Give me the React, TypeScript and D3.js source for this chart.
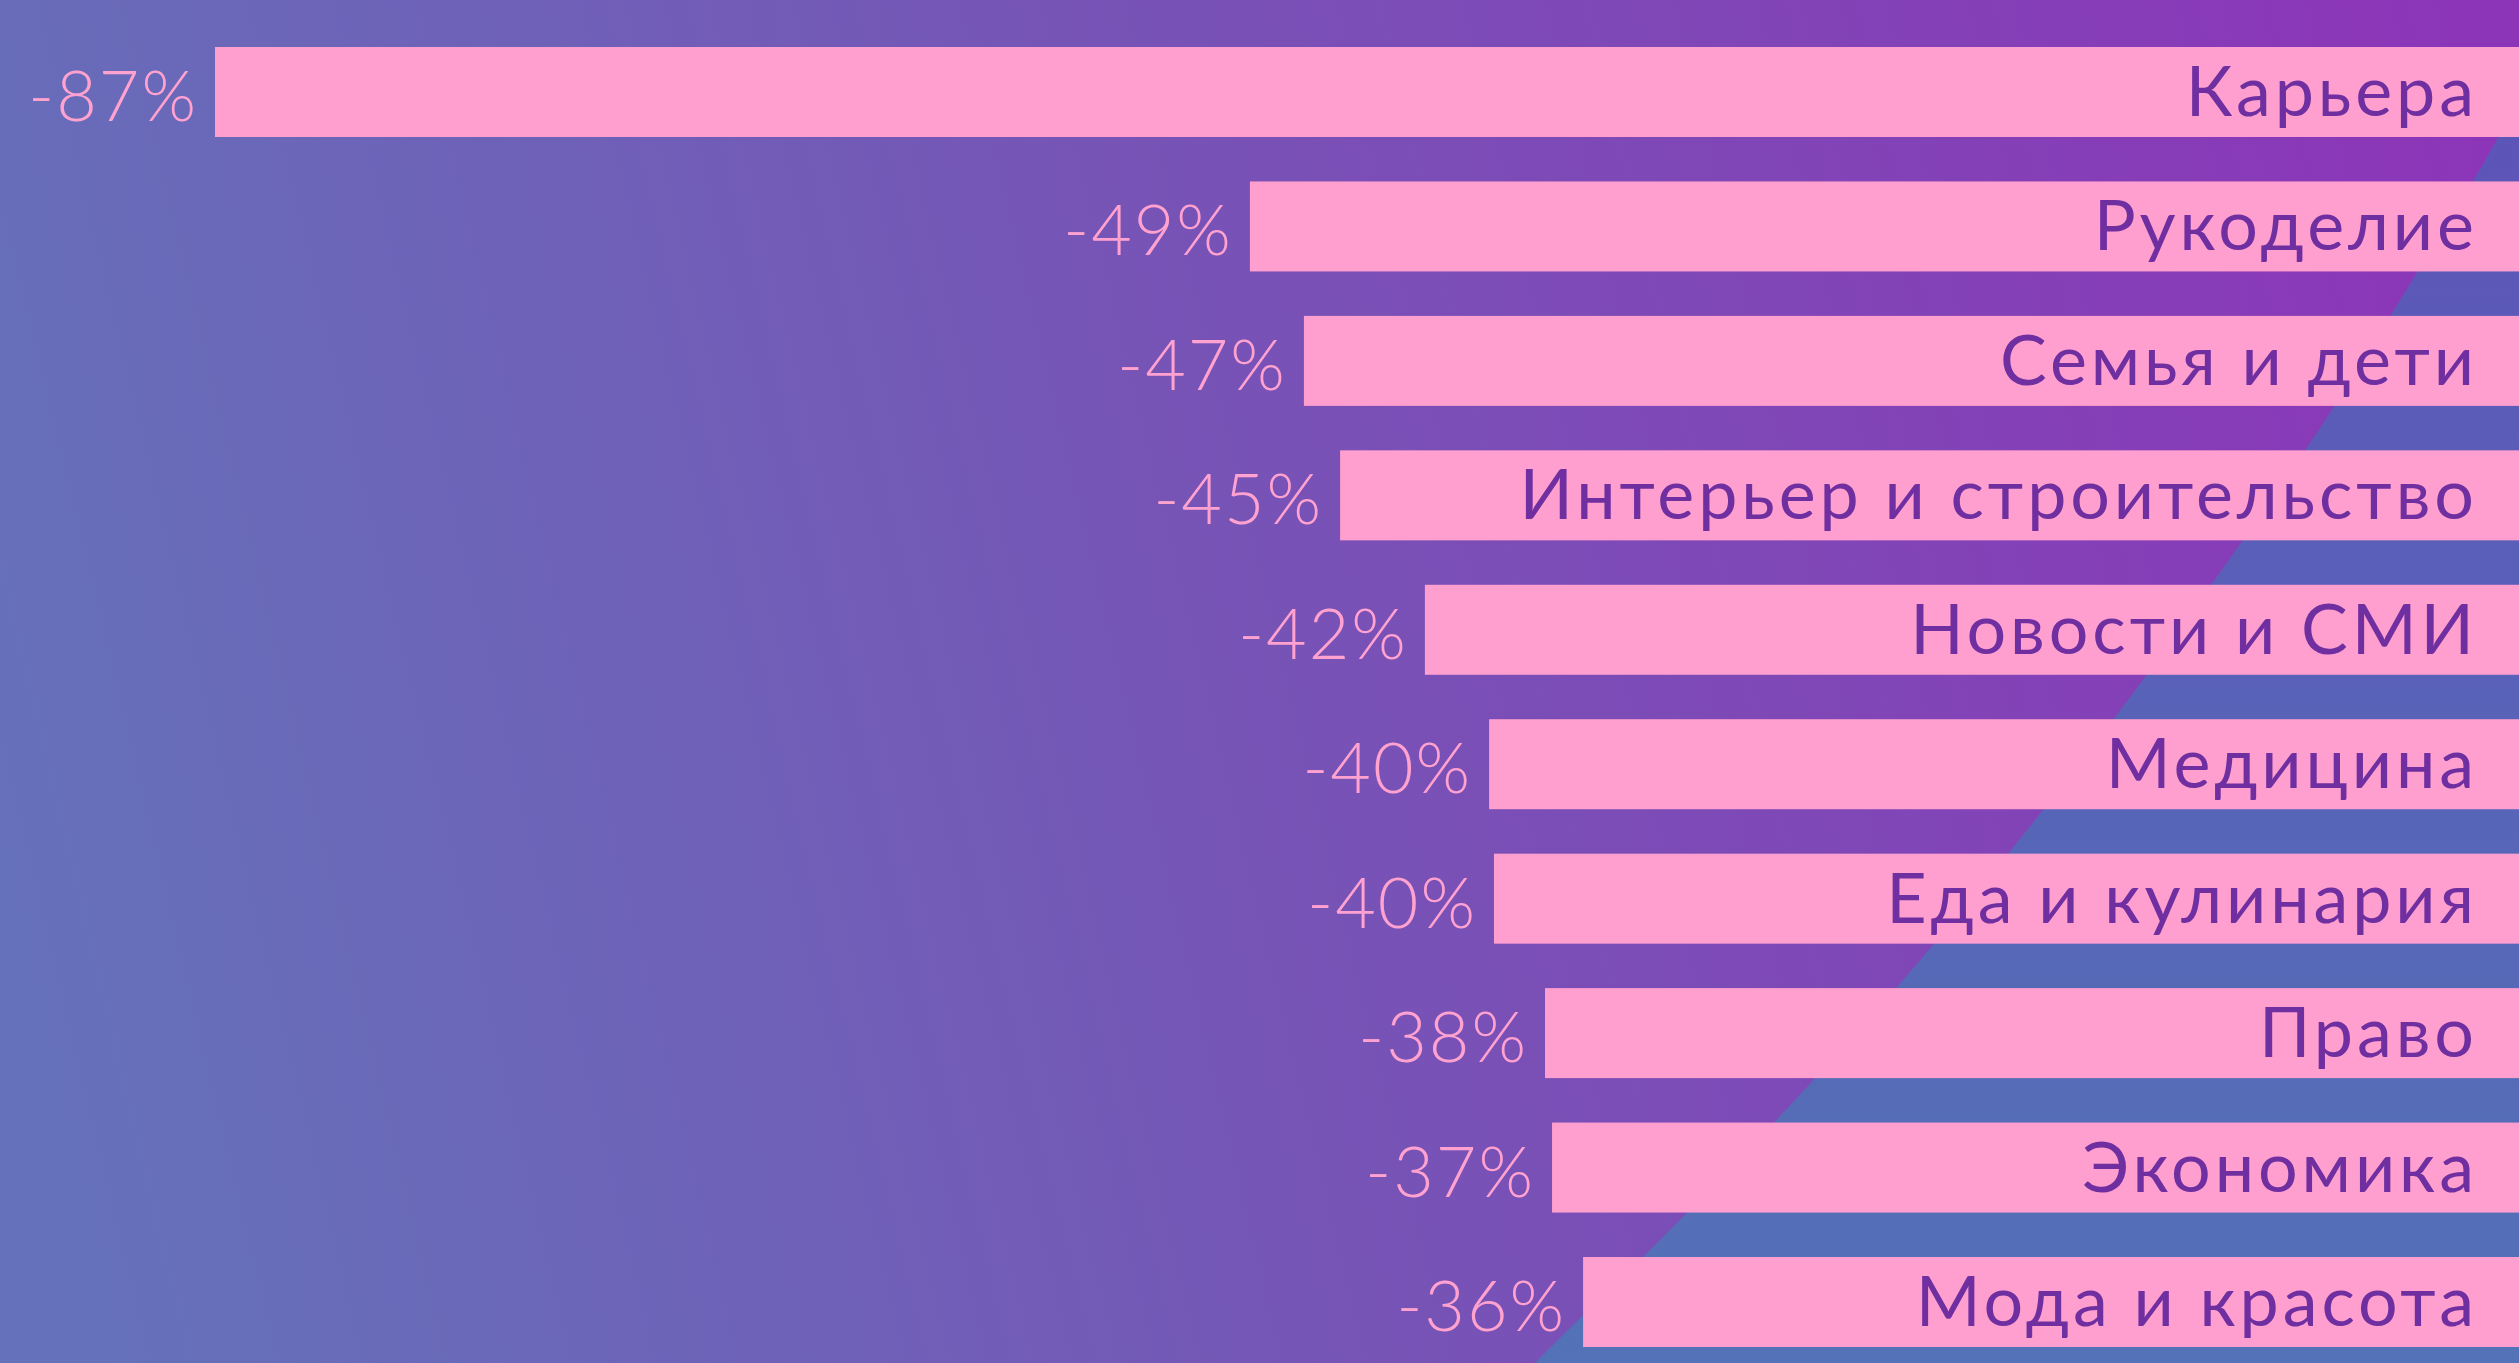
import React from "react";
import * as d3 from "d3";

const categories = [
  "Карьера",
  "Рукоделие",
  "Семья и дети",
  "Интерьер и строительство",
  "Новости и СМИ",
  "Медицина",
  "Еда и кулинария",
  "Право",
  "Экономика",
  "Мода и красота",
];
// Decline, % (labels shown rounded)
const values = [87, 48.67, 46.67, 45.33, 42.19, 39.81, 39.63, 37.74, 37.48, 36.33];

// decorative background boundary (blue wedge lower right)
const wedgeEdge: [number, number][] = [
  [2519, 99], [2486, 159], [2418, 271], [2320, 428], [2228, 561], [2131, 696],
  [2027, 830], [1916, 965], [1796, 1099], [1666, 1234], [1558, 1340], [1520, 1378],
];

const W = 2519;
const H = 1363;

export default function App() {
  const x = d3.scaleLinear().domain([0, 87]).range([2564, 215]);
  const y = d3.scaleBand<string>().domain(categories).range([47, 1347]).paddingInner(0.3306).paddingOuter(0);
  const edge = d3.line().curve(d3.curveCatmullRom)(wedgeEdge) as string;
  const wedge = `${edge} L${W},${H + 20} L${W},99 Z`;
  const font = "Lato, 'Noto Sans', 'DejaVu Sans', sans-serif";
  const catSpacing = 3.9;
  const valSpacing = 2;
  return (
    <div style={{ position: "fixed", left: 0, top: 0, width: W, height: H }}>
      <svg width={W} height={H} style={{ display: "block" }}>
        <defs>
          <linearGradient id="bg" gradientUnits="userSpaceOnUse" x1="0" y1="900" x2="2519" y2="300">
            <stop offset="0" stopColor="#6571BA" />
            <stop offset="0.5" stopColor="#7753B6" />
            <stop offset="1" stopColor="#8C35B8" />
          </linearGradient>
          <linearGradient id="wedge" gradientUnits="userSpaceOnUse" x1="0" y1="100" x2="0" y2="1363">
            <stop offset="0" stopColor="#5D54B8" />
            <stop offset="1" stopColor="#5372B7" />
          </linearGradient>
        </defs>
        <rect x={0} y={0} width={W} height={H} fill="url(#bg)" />
        <path d={wedge} fill="url(#wedge)" />
        {categories.map((c, i) => {
          const yy = y(c)!;
          const bx = x(values[i]);
          return (
            <g key={c}>
              <rect x={bx} y={yy} width={W - bx} height={y.bandwidth()} fill="#FF9FCF" />
              <text
                x={bx - 19 + valSpacing}
                y={yy + 74}
                textAnchor="end"
                fill="#FFA2D0"
                fontFamily={font}
                fontWeight={300}
                fontSize={70}
                letterSpacing={valSpacing}
              >
                {`-${Math.round(values[i])}%`}
              </text>
              <text
                x={2474 + catSpacing}
                y={yy + 69}
                textAnchor="end"
                fill="#6F2FA0"
                fontFamily={font}
                fontWeight={400}
                fontSize={70}
                letterSpacing={catSpacing}
              >
                {c}
              </text>
            </g>
          );
        })}
      </svg>
    </div>
  );
}
